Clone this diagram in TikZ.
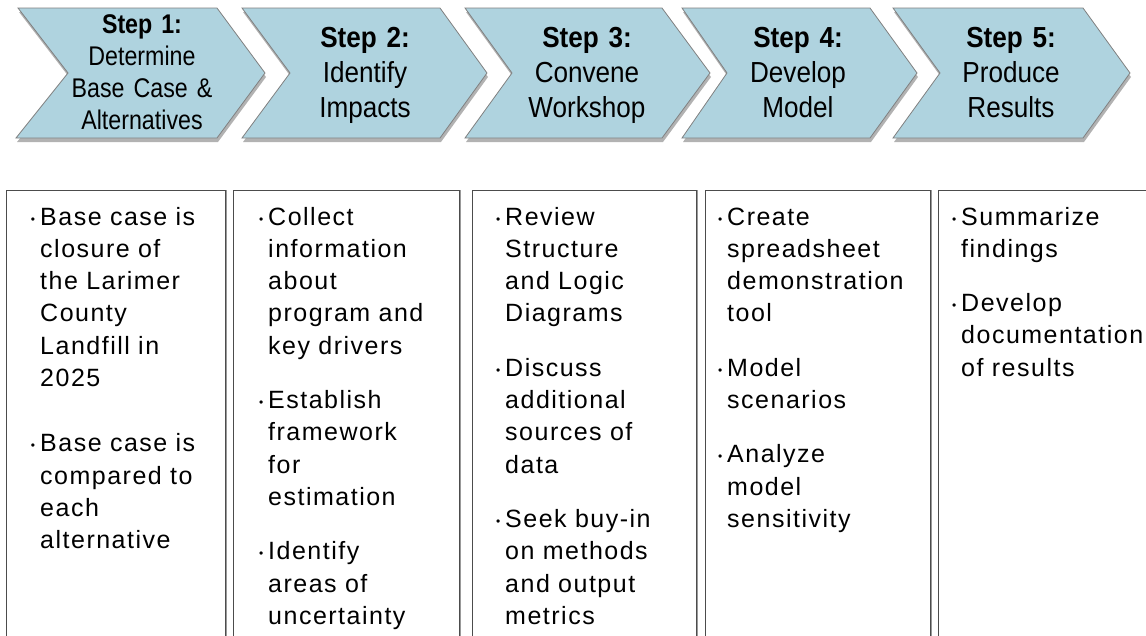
\documentclass[tikz,border=0pt]{standalone}
\usepackage{fontspec}
\setmainfont{Liberation Sans}
\newfontfamily\chevfont[FakeStretch=0.9]{Liberation Sans}
\newfontfamily\chevfontnarrow[FakeStretch=0.86]{Liberation Sans}
\newfontfamily\listfont[LetterSpace=6]{Liberation Sans}
\usetikzlibrary{shadows}
\definecolor{chevfill}{RGB}{175,211,223}
\newcommand{\bul}{\leavevmode\llap{\raisebox{2pt}{\fontsize{12}{12}\selectfont\char"2022}\hspace{5pt}}}

\begin{document}
\begin{tikzpicture}[x=1pt, y=-1pt,
    chevron/.style ={draw=black!50, line width=0.8pt, fill=chevfill,
      drop shadow={shadow xshift=1pt, shadow yshift=-4pt, opacity=0.3, fill=black}},
    steptext/.style ={text width=180pt, align=center, anchor=base, inner sep=0pt,
      font=\chevfont\fontsize{29}{35}\selectfont},
    itembox/.style ={draw=black!70, line width=0.8pt, fill=white,
      drop shadow={shadow xshift=2pt, shadow yshift=0pt, opacity=0.4, fill=black}},
    itemlist/.style ={text width=200pt, align=left, anchor=base west, inner sep=0pt,
      font=\listfont\fontsize{25}{32.3}\selectfont}]
   \useasboundingbox (0,0) rectangle (1146,635);
   \clip (0,0) rectangle (1146,635);
   \draw[chevron] (18,8) -- (217,8) -- (265,73) -- (217,138) -- (16,138) -- (68,73) -- cycle;
   \draw[chevron] (242,8) -- (440,8) -- (487,73) -- (440,138) -- (242,138) -- (290,73) -- cycle;
   \draw[chevron] (465,8) -- (662,8) -- (710,73) -- (662,138) -- (465,138) -- (512,73) -- cycle;
   \draw[chevron] (682,8) -- (870,8) -- (917,73) -- (870,138) -- (682,138) -- (727,73) -- cycle;
   \draw[chevron] (893,8) -- (1083,8) -- (1130,73) -- (1083,138) -- (893,138) -- (940,73) -- cycle;
   \node[steptext, font=\chevfontnarrow\fontsize{27}{32.3}\selectfont] (step1) at (142,33)
      {\textbf{Step 1:}\\Determine\\Base Case \&\\Alternatives};
   \node[steptext] (step2) at (365,47) {\textbf{Step 2:}\\Identify\\Impacts};
   \node[steptext] (step3) at (587,47) {\textbf{Step 3:}\\Convene\\Workshop};
   \node[steptext] (step4) at (798,47) {\textbf{Step 4:}\\Develop\\Model};
   \node[steptext] (step5) at (1011,47) {\textbf{Step 5:}\\Produce\\Results};
   \draw[itembox] (6,190) rectangle (225,660);
   \draw[itembox] (233,190) rectangle (459,660);
   \draw[itembox] (472,190) rectangle (696,660);
   \draw[itembox] (705,190) rectangle (930,660);
   \draw[itembox] (938,190) rectangle (1180,660);
   \node[itemlist] (list1) at (40,225)
      {\bul Base case is\\closure of\\the Larimer\\County\\Landfill in\\2025\\[33pt]%
       \bul Base case is\\compared to\\each\\alternative};
   \node[itemlist] (list2) at (268,225)
      {\bul Collect\\information\\about\\program and\\key drivers\\[22pt]%
       \bul Establish\\framework\\for\\estimation\\[22pt]%
       \bul Identify\\areas of\\uncertainty};
   \node[itemlist] (list3) at (505,225)
      {\bul Review\\Structure\\and Logic\\Diagrams\\[22pt]%
       \bul Discuss\\additional\\sources of\\data\\[22pt]%
       \bul Seek buy-in\\on methods\\and output\\metrics};
   \node[itemlist] (list4) at (727,225)
      {\bul Create\\spreadsheet\\demonstration\\tool\\[22pt]%
       \bul Model\\scenarios\\[22pt]%
       \bul Analyze\\model\\sensitivity};
   \node[itemlist] (list5) at (961,225)
      {\bul Summarize\\findings\\[22pt]%
       \bul Develop\\documentation\\of results};
 \end{tikzpicture}
\end{document}
